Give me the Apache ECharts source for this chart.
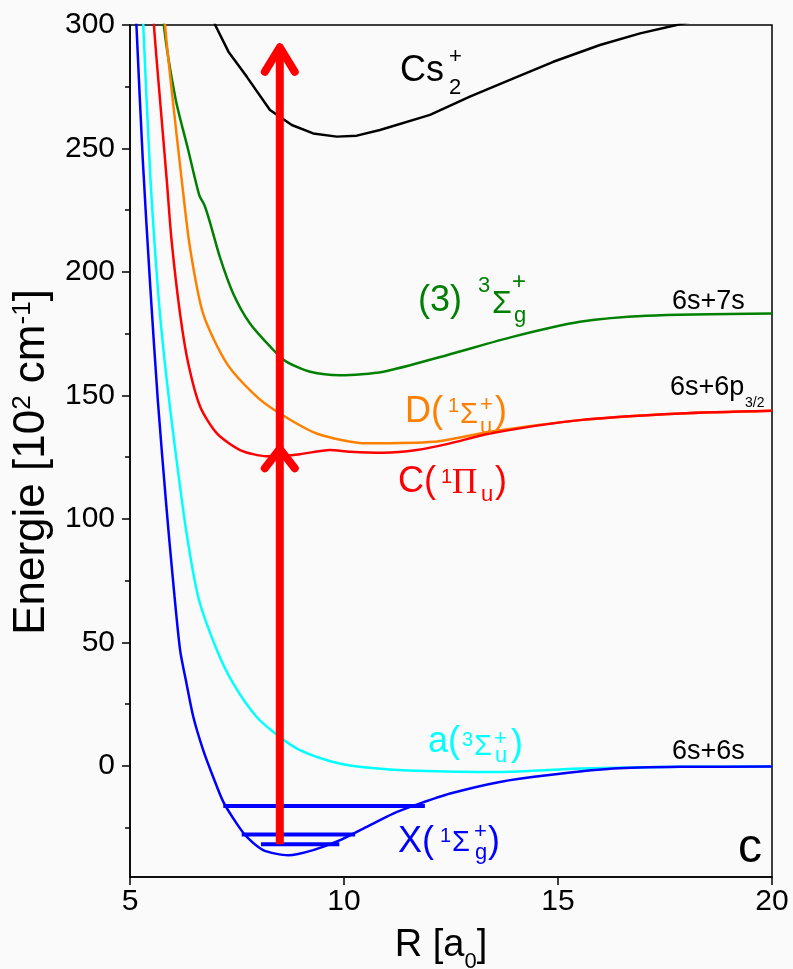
<!DOCTYPE html>
<html>
<head>
<meta charset="utf-8">
<script src="https://cdn.jsdelivr.net/npm/echarts@6/dist/echarts.min.js"></script>
<style>
html, body { margin: 0; background: #fafafa; }
#chart-container { width: 793px; height: 969px; }
</style>
</head>
<body>
<div id="chart-container"></div>
<script>
// potential curves, [R in a0, energy in 10^2 cm^-1]
var stateX = [[5.08, 330], [5.15, 300], [5.30, 245], [5.47, 195], [5.65, 148], [5.85, 105], [6.0, 76], [6.17, 47], [6.32, 33.4],
	[6.48, 19.8], [6.71, 6.4], [6.95, -4.8], [7.18, -14.6], [7.49, -23.3], [7.73, -28.8], [8.11, -34.1], [8.70, -36.2],
	[9.28, -34.1], [9.91, -30.1], [10.53, -24.7], [11.15, -19.3], [11.78, -15.2], [12.48, -11.2], [13.64, -6.5],
	[14.74, -3.8], [16.29, -1.1], [17.85, -0.4], [20, -0.3]];
var stateA = [[5.27, 330], [5.31, 300], [5.48, 237], [5.58, 210], [5.70, 183], [5.86, 156], [6.05, 129], [6.31, 95.5],
	[6.6, 68], [7.03, 46.9], [7.41, 33.4], [7.96, 19.8], [8.50, 11.7], [8.97, 6.4], [9.75, 1.6], [10.53, -0.7],
	[11.70, -2.0], [13.64, -2.5], [15.51, -1.1], [17.85, -0.4], [20, -0.3]];
var stateC = [[5.52, 320], [5.56, 300], [5.70, 270], [5.86, 237], [5.97, 213], [6.17, 183], [6.36, 163], [6.64, 145.4],
	[7.03, 134.6], [7.57, 127.9], [8.19, 125.4], [8.5, 125.4], [8.97, 126.2], [9.67, 127.9], [10.14, 127.2],
	[10.92, 126.8], [11.7, 127.9], [12.48, 130.6], [13.41, 134.6], [15.51, 140], [17.85, 142.7], [20, 143.8]];
var stateD = [[5.78, 320], [5.82, 300], [6.0, 269.6], [6.21, 237], [6.40, 210], [6.71, 183], [7.26, 163], [7.96, 149.5],
	[8.5, 142.7], [9.36, 134.6], [10.53, 130.6], [12.09, 131.2], [13.41, 135.3], [15.51, 140], [17.85, 142.7], [20, 143.8]];
var state3 = [[5.75, 320], [5.79, 300], [6.07, 269.6], [6.36, 249.4], [6.62, 231], [6.74, 227], [6.87, 220], [7.1, 206],
	[7.41, 191.3], [7.80, 179.2], [8.35, 168.4], [8.66, 163.6], [9.21, 159.6], [9.91, 158.2], [10.92, 159.6],
	[12.4, 166.3], [13.96, 173.8], [15.51, 179.8], [17.07, 182.3], [20, 183.2]];
var ion = [[6.85, 310], [6.99, 300], [7.30, 289.2], [7.73, 279], [8.27, 265.6], [8.78, 259.5], [9.28, 256.1], [9.83, 254.8],
	[10.3, 255.2], [10.84, 257.5], [12.01, 263.6], [12.94, 271], [13.96, 278.4], [14.89, 285.1], [15.98, 291.9],
	[16.92, 296.6], [17.77, 300], [18.5, 303]];

// vibrational levels of X: [energy, R left, R right]
var levels = [[-16.3, 7.18, 11.89], [-27.8, 7.61, 10.26], [-31.7, 8.06, 9.89]];

// excitation arrow
var arrowR = 8.5;
var arrowFrom = -31.7;
var arrowTo = 291;
var arrowHeads = [[291, 281], [128.3, 120.5]];
var headHalf = 0.35;

var xTicks = [5, 10, 15, 20];
var yTicks = [0, 50, 100, 150, 200, 250, 300];
var yMinor = [-25, 25, 75, 125, 175, 225, 275];

var FONT = '"Liberation Sans", Arial, sans-serif';
var SERIF = '"Liberation Serif", "Times New Roman", serif';

function curve(d, color, smooth) {
	return {
		type: 'line', data: d, symbol: 'none', smooth: smooth, clip: true,
		lineStyle: { color: color, width: 2.5 }, z: 2, silent: true
	};
}

var series = [
	curve(ion, '#000000', false),
	curve(state3, '#008000', 0.25),
	curve(stateD, '#ff8000', 0.25),
	curve(stateC, '#ff0000', 0.25),
	curve(stateA, '#00ffff', 0.25),
	curve(stateX, '#0000ff', 0.25)
];
levels.forEach(function (l) {
	series.push({
		type: 'line', data: [[l[1], l[0]], [l[2], l[0]]], symbol: 'none',
		lineStyle: { color: '#0000ff', width: 4 }, z: 3, silent: true
	});
});
series.push({
	type: 'line', data: [[arrowR, arrowFrom], [arrowR, arrowTo]], symbol: 'none',
	lineStyle: { color: '#ff0000', width: 8, cap: 'butt' }, z: 5, silent: true
});
arrowHeads.forEach(function (h) {
	series.push({
		type: 'line', data: [[arrowR - headHalf, h[1]], [arrowR, h[0]], [arrowR + headHalf, h[1]]], symbol: 'none',
		lineStyle: { color: '#ff0000', width: 8, cap: 'round', join: 'round' }, z: 5, silent: true
	});
});

// text labels: [text, x, y, size, family]
var labels = [
	['#000', [['Cs', 400, 71, 36], ['+', 449, 57, 22], ['2', 449, 88, 22]]],
	['#008000', [['(3)', 418, 301, 36], ['3', 478, 286, 22], ['\u03A3', 492, 304, 32], ['+', 512, 282, 24], ['g', 514, 316, 22]]],
	['#000', [['6s+7s', 672, 302, 27]]],
	['#000', [['6s+6p', 670, 388, 27], ['3/2', 745, 403, 14]]],
	['#ff8000', [['D(', 405, 412, 36], ['1', 448, 406, 20], ['\u03A3', 460, 415, 29], ['+', 480, 405, 22], ['u', 480, 427, 22], [')', 495, 412, 36]]],
	['#ff0000', [['C(', 398, 482, 36], ['1', 441, 477, 20], ['\u03A0', 452, 484, 35, SERIF], ['u', 481, 495, 22], [')', 495, 482, 36]]],
	['#00ffff', [['a(', 428, 742, 36], ['3', 462, 740, 20], ['\u03A3', 474, 747, 29], ['+', 494, 739, 22], ['u', 495, 756, 22], [')', 511, 745, 36]]],
	['#000', [['6s+6s', 672, 752, 27]]],
	['#0000ff', [['X(', 398, 842, 36], ['1', 440, 836, 20], ['\u03A3', 452, 843, 29], ['+', 474, 832, 22], ['g', 475, 853, 22], [')', 488, 842, 36]]],
	['#000', [['c', 738, 849, 48]]]
];

var graphic = [];
labels.forEach(function (g) {
	g[1].forEach(function (p) {
		graphic.push({
			type: 'text', x: p[1], y: p[2], z: 50, silent: true,
			style: {
				text: p[0], fill: g[0], font: p[3] + 'px ' + (p[4] || FONT),
				textAlign: 'left', textVerticalAlign: 'middle', verticalAlign: 'middle'
			}
		});
	});
});

var dom = document.getElementById('chart-container');
var myChart = echarts.init(dom, null, { renderer: 'canvas' });

var option = {
	backgroundColor: '#fafafa',
	animation: false,
	grid: {
		left: 130, right: 21, top: 25, bottom: 92, outerBoundsMode: 'none', containLabel: false,
		show: true, borderColor: '#000', borderWidth: 1.5, backgroundColor: 'transparent'
	},
	xAxis: {
		type: 'value', min: 5, max: 20, interval: 5,
		name: '{t|R [a}{b|0}{t|]}', nameLocation: 'middle', nameGap: 50,
		nameTextStyle: {
			padding: [0, 20, 0, 0],
			rich: {
				t: { fontSize: 38, fontFamily: FONT, color: '#000' },
				b: { fontSize: 22, fontFamily: FONT, color: '#000', verticalAlign: 'bottom', padding: [0, 0, -8, 0] }
			}
		},
		axisLine: { onZero: false, lineStyle: { color: '#000', width: 1.5 } },
		axisTick: { inside: false, length: 8, lineStyle: { color: '#000', width: 1.5 }, customValues: xTicks },
		axisLabel: { color: '#000', fontSize: 30, fontFamily: FONT, margin: 10, customValues: xTicks },
		splitLine: { show: false }
	},
	yAxis: [{
		type: 'value', min: -45, max: 300,
		name: '{t|Energie [10}{s|2}{t| cm}{s|-1}{t|]}', nameLocation: 'middle', nameGap: 74,
		nameTextStyle: {
			padding: [0, 22, 0, 0],
			rich: {
				t: { fontSize: 44, fontFamily: FONT, color: '#000' },
				s: { fontSize: 26, fontFamily: FONT, color: '#000', verticalAlign: 'top' }
			}
		},
		axisLine: { onZero: false, lineStyle: { color: '#000', width: 1.5 } },
		axisTick: { inside: false, length: 8, lineStyle: { color: '#000', width: 1.5 }, customValues: yTicks },
		axisLabel: { color: '#000', fontSize: 30, fontFamily: FONT, margin: 15, customValues: yTicks },
		splitLine: { show: false }
	}, {
		type: 'value', min: -45, max: 300, position: 'left',
		axisLine: { show: false, onZero: false },
		axisTick: { show: true, inside: false, length: 5, lineStyle: { color: '#000', width: 1.5 }, customValues: yMinor },
		axisLabel: { show: false },
		splitLine: { show: false }
	}],
	series: series,
	graphic: graphic
};

myChart.setOption(option);
window.addEventListener('resize', myChart.resize);
</script>
</body>
</html>
